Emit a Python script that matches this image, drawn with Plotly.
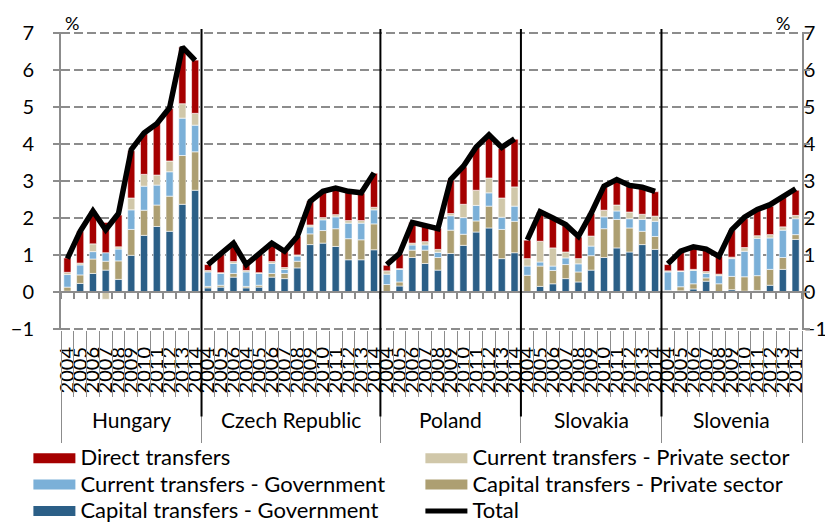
import plotly.graph_objects as go

# ---------------- data ----------------
countries = ["Hungary", "Czech Republic", "Poland", "Slovakia", "Slovenia"]
hungary_years = ["2004", "2005", "2006", "2007", "2008", "2009", "2010", "2011", "2012", "2013", "2014"]
czech_years = ["2004", "2005", "2006", "2004", "2005", "2006", "2007", "2008", "2009", "2010", "2011", "2012", "2013", "2014"]
poland_years = ["2004", "2005", "2006", "2007", "2008", "2009", "2010", "2011", "2012", "2013", "2014"]
slovakia_years = ["2004", "2005", "2006", "2007", "2008", "2009", "2010", "2011", "2012", "2013", "2014"]
slovenia_years = ["2004", "2005", "2006", "2007", "2008", "2009", "2010", "2011", "2012", "2013", "2014"]

capital_gov = [
    0.02, 0.23, 0.50, 0.59, 0.34, 0.99, 1.53, 1.77, 1.64, 2.37, 2.75,
    0.11, 0.13, 0.40, 0.11, 0.13, 0.40, 0.36, 0.65, 1.28, 1.32, 1.23, 0.87, 0.87, 1.14,
    0.00, 0.16, 0.93, 0.77, 0.59, 1.04, 1.26, 1.62, 1.73, 0.90, 1.06,
    0.00, 0.15, 0.22, 0.36, 0.27, 0.59, 0.93, 1.19, 1.08, 1.28, 1.15,
    0.00, 0.03, 0.08, 0.29, 0.00, 0.06, 0.02, 0.04, 0.18, 0.61, 1.42]
capital_priv = [
    0.11, 0.23, 0.39, 0.24, 0.50, 0.70, 0.68, 0.58, 0.95, 1.32, 1.04,
    0.04, 0.05, 0.10, 0.04, 0.05, 0.10, 0.14, 0.18, 0.29, 0.34, 0.48, 0.57, 0.54, 0.70,
    0.20, 0.11, 0.20, 0.36, 0.34, 0.63, 0.30, 0.30, 0.59, 0.79, 0.85,
    0.45, 0.55, 0.36, 0.38, 0.27, 0.39, 0.78, 0.77, 0.65, 0.36, 0.35,
    0.04, 0.11, 0.14, 0.09, 0.22, 0.36, 0.39, 0.40, 0.43, 0.32, 0.13]
current_gov = [
    0.34, 0.27, 0.20, 0.23, 0.32, 0.53, 0.65, 0.54, 0.66, 1.01, 0.72,
    0.39, 0.32, 0.27, 0.39, 0.32, 0.27, 0.11, 0.14, 0.19, 0.29, 0.32, 0.42, 0.45, 0.38,
    0.28, 0.34, 0.14, 0.14, 0.14, 0.39, 0.45, 0.42, 0.36, 0.33, 0.41,
    0.25, 0.11, 0.12, 0.18, 0.22, 0.26, 0.32, 0.23, 0.25, 0.32, 0.41,
    0.50, 0.41, 0.36, 0.12, 0.22, 0.48, 0.69, 1.01, 0.85, 0.74, 0.43]
current_priv = [
    0.06, 0.05, 0.21, -0.20, 0.06, 0.32, 0.32, 0.27, 0.29, 0.39, 0.32,
    0.04, 0.02, 0.05, 0.04, 0.02, 0.05, 0.05, 0.03, 0.05, 0.06, 0.06, 0.07, 0.07, 0.07,
    0.09, 0.02, 0.05, 0.09, 0.08, 0.06, 0.36, 0.41, 0.40, 0.52, 0.52,
    0.20, 0.56, 0.49, 0.16, 0.14, 0.27, 0.18, 0.16, 0.18, 0.14, 0.14,
    0.03, 0.02, 0.03, 0.05, 0.04, 0.04, 0.10, 0.07, 0.09, 0.09, 0.09]
direct = [
    0.39, 0.86, 0.89, 0.82, 0.86, 1.28, 1.10, 1.40, 1.42, 1.53, 1.44,
    0.16, 0.50, 0.51, 0.16, 0.50, 0.51, 0.45, 0.51, 0.65, 0.70, 0.72, 0.78, 0.74, 0.92,
    0.15, 0.39, 0.56, 0.41, 0.57, 0.90, 1.01, 1.16, 1.15, 1.34, 1.29,
    0.50, 0.79, 0.79, 0.72, 0.59, 0.61, 0.63, 0.68, 0.70, 0.71, 0.66,
    0.17, 0.50, 0.60, 0.60, 0.48, 0.73, 0.78, 0.69, 0.77, 0.81, 0.68]
total = [
    0.90, 1.64, 2.19, 1.68, 2.12, 3.85, 4.30, 4.55, 4.98, 6.62, 6.26,
    0.74, 1.03, 1.32, 0.74, 1.03, 1.32, 1.10, 1.50, 2.45, 2.72, 2.81, 2.72, 2.68, 3.22,
    0.74, 1.04, 1.88, 1.78, 1.71, 3.04, 3.40, 3.92, 4.25, 3.91, 4.14,
    1.41, 2.17, 2.00, 1.82, 1.50, 2.13, 2.86, 3.04, 2.88, 2.83, 2.72,
    0.76, 1.10, 1.22, 1.16, 0.96, 1.68, 2.02, 2.23, 2.36, 2.59, 2.79]

y_ticks = [-1, 0, 1, 2, 3, 4, 5, 6, 7]

# ---------------- derived positions ----------------
year_groups = [hungary_years, czech_years, poland_years, slovakia_years, slovenia_years]
year_labels = [y for g in year_groups for y in g]
n = len(year_labels)
xs = list(range(n))
group_sizes = [len(g) for g in year_groups]
group_starts = [sum(group_sizes[:i]) for i in range(len(group_sizes))]
group_bounds = [s - 0.5 for s in group_starts] + [n - 0.5]
group_centers = [s + (k - 1) / 2 for s, k in zip(group_starts, group_sizes)]
cat_bounds = [i - 0.5 for i in range(n + 1)]

FONT = "Lato"
FS = 21
GRAY = "#8c8c8c"
LEG_TXT = '<span style="font-size:22px">%s</span>'

series = [
    ("Capital transfers - Government", capital_gov, "#2b5f87", 5),
    ("Capital transfers - Private sector", capital_priv, "#ad9f72", 4),
    ("Current transfers - Government", current_gov, "#7bb0d8", 3),
    ("Current transfers - Private sector", current_priv, "#d0c7a9", 2),
    ("Direct transfers", direct, "#a50000", 1),
]

fig = go.Figure()
for name, vals, col, rank in series:
    fig.add_trace(go.Bar(x=xs, y=vals, name=name, marker=dict(color=col, line=dict(color="white", width=0.6)),
                         width=0.56, showlegend=False, legendgroup=name))
# total line, segmented by country
tx, ty = [], []
for s, k in zip(group_starts, group_sizes):
    tx += xs[s:s + k] + [None]
    ty += total[s:s + k] + [None]
fig.add_trace(go.Scatter(x=tx, y=ty, mode="lines", name="Total", line=dict(color="black", width=5.5),
                         showlegend=False, connectgaps=False))

# legend entries
for name, vals, col, rank in series:
    fig.add_trace(go.Scatter(x=[None], y=[None], mode="lines", name=LEG_TXT % name, legendgroup=name,
                             line=dict(color=col, width=16), legendrank=rank))
fig.add_trace(go.Scatter(x=[None], y=[None], mode="lines", name=LEG_TXT % "Total",
                         line=dict(color="black", width=5), legendrank=6))

# dummy traces to register overlay axes
for xa, ya in [("x2", "y"), ("x3", "y"), ("x4", "y"), ("x", "y2"), ("x", "y3")]:
    fig.add_trace(go.Scatter(x=[None], y=[None], xaxis=xa, yaxis=ya, showlegend=False, hoverinfo="skip"))

xr = [-0.5, n - 0.5]
yr = [-1.03, 7.03]
fig.update_layout(
    width=833, height=525,
    margin=dict(l=53, r=39, t=24, b=203, autoexpand=False),
    paper_bgcolor="white", plot_bgcolor="white",
    barmode="relative",
    font=dict(family=FONT, size=FS, color="black"),
    xaxis=dict(range=xr, tickvals=xs, ticktext=year_labels, tickangle=-90, ticks="", showline=False,
               showgrid=False, zeroline=False, tickfont=dict(size=20), ticklabelstandoff=12, automargin=False),
    xaxis2=dict(range=xr, overlaying="x", anchor="y", side="bottom", tickvals=cat_bounds, ticks="outside",
                ticklen=66, tickcolor=GRAY, tickwidth=1, showticklabels=False, showgrid=False, zeroline=False,
                automargin=False),
    xaxis3=dict(range=xr, overlaying="x", anchor="y", side="bottom", tickvals=group_bounds, ticks="outside",
                ticklen=112, tickcolor=GRAY, tickwidth=1, showticklabels=False, showgrid=False, zeroline=False,
                automargin=False),
    xaxis4=dict(range=xr, overlaying="x", anchor="free", position=(0 - yr[0]) / (yr[1] - yr[0]), side="bottom",
                tickvals=cat_bounds, ticks="outside", ticklen=6, tickcolor=GRAY, tickwidth=1.5,
                showline=True, linecolor=GRAY, linewidth=2, showticklabels=False, showgrid=False, zeroline=False,
                automargin=False),
    yaxis=dict(range=yr, tickvals=y_ticks, showgrid=True, gridcolor=GRAY, gridwidth=2, griddash="9px,4px",
               zeroline=False, showline=True, linecolor=GRAY, linewidth=2, ticks="outside", ticklen=6,
               tickcolor=GRAY, tickwidth=2, tickfont=dict(size=20), ticklabelstandoff=15, automargin=False),
    yaxis2=dict(range=yr, tickvals=y_ticks, overlaying="y", side="right", anchor="free", position=0.989,
                showgrid=False, zeroline=False, showline=False, ticks="", tickfont=dict(size=20),
                ticklabelstandoff=9, automargin=False),
    yaxis3=dict(range=yr, tickvals=y_ticks, overlaying="y", side="right", showgrid=False, zeroline=False,
                showline=True, linecolor=GRAY, linewidth=2, ticks="outside", ticklen=6, tickcolor=GRAY,
                tickwidth=2, showticklabels=False, automargin=False),
    legend=dict(orientation="h", x=-0.044, y=-0.369, xanchor="left", yanchor="top", entrywidth=335,
                entrywidthmode="pixels", itemwidth=42, traceorder="normal", font=dict(size=18),
                bgcolor="rgba(0,0,0,0)"),
)

# country separators
for b in group_bounds[1:-1]:
    fig.add_shape(type="line", x0=b, x1=b, xref="x", yref="paper", y0=-0.29, y1=1.01,
                  line=dict(color="black", width=2))

# country labels
for c, cx in zip(countries, group_centers):
    fig.add_annotation(x=cx, y=-0.30, xref="x", yref="paper", text=c, showarrow=False,
                       font=dict(size=FS), xanchor="center", yanchor="middle")

# % labels
fig.add_annotation(x=0.0, y=1.0, xref="paper", yref="paper", text="%", showarrow=False, xanchor="left",
                   yanchor="bottom", xshift=2, yshift=-4, font=dict(size=FS - 3))
fig.add_annotation(x=1.0, y=1.0, xref="paper", yref="paper", text="%", showarrow=False, xanchor="right",
                   yanchor="bottom", xshift=-10, yshift=-4, font=dict(size=FS - 3))

fig.write_html("out.html")
